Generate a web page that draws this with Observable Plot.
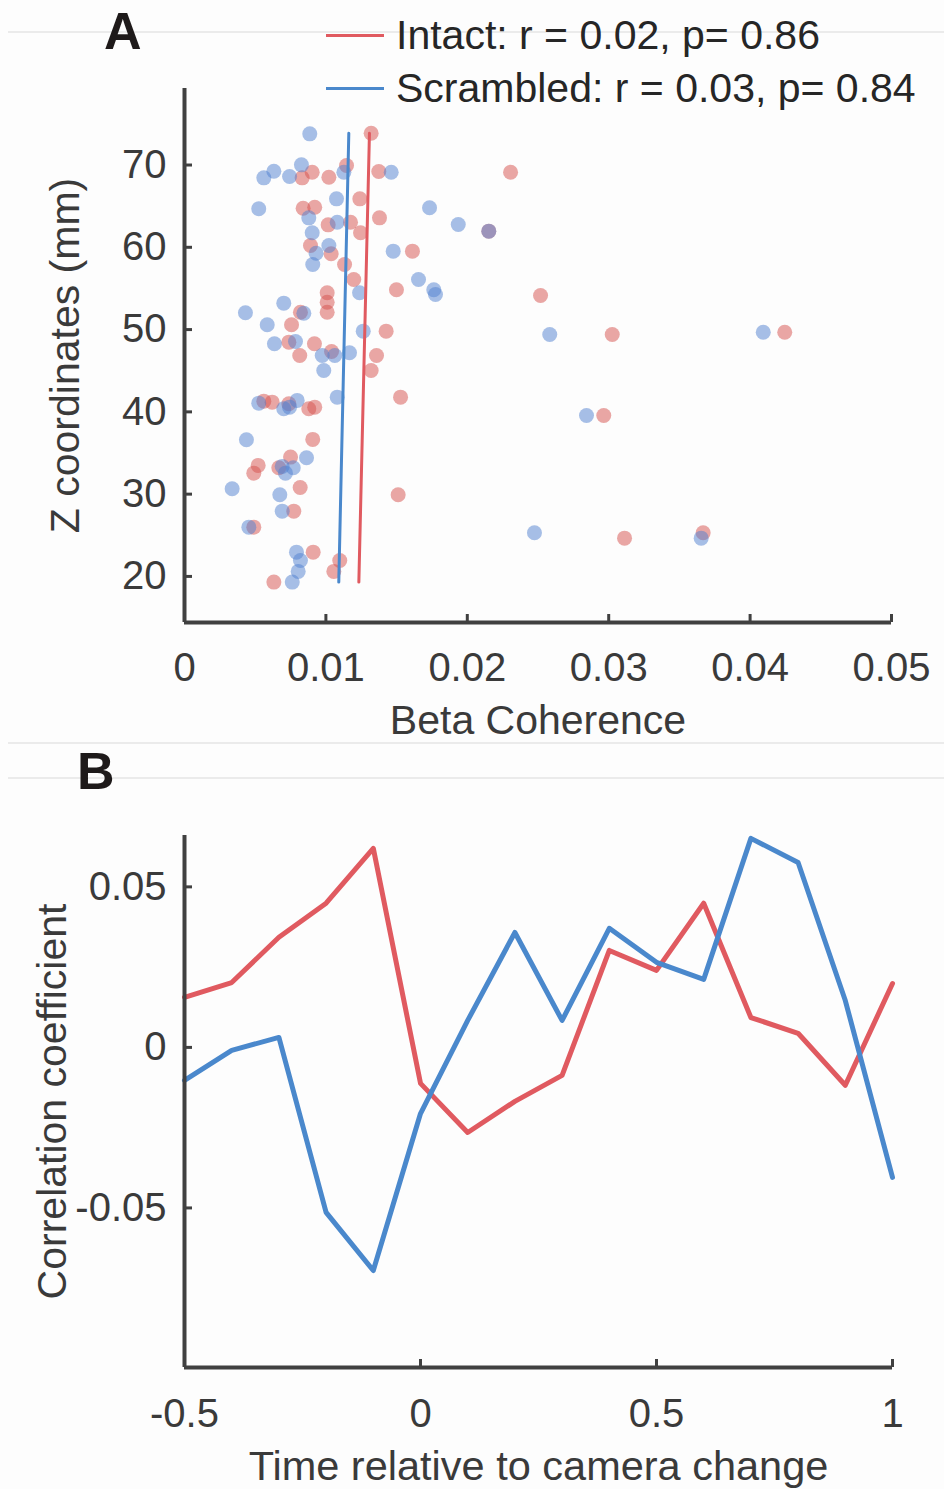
<!DOCTYPE html>
<html>
<head>
<meta charset="utf-8">
<script src="https://cdn.jsdelivr.net/npm/d3@7"></script>
<script src="https://cdn.jsdelivr.net/npm/@observablehq/plot@0.6"></script>
<style>
  body { margin: 0; background: #fdfdfd; font-family: Arial, "Liberation Sans", sans-serif; }
  #fig { position: relative; width: 944px; height: 1489px; overflow: hidden; background: #fdfdfd; }
  .sep { position: absolute; left: 8px; right: 0; height: 2px; background: #ebebeb; }
  .panel { position: absolute; left: 0; }
  .plabel { position: absolute; font-weight: bold; font-size: 52px; color: #1e1a1a; line-height: 1; }
  .leg { position: absolute; left: 326px; font-size: 41px; color: #262626; line-height: 1; display: flex; align-items: center; white-space: nowrap; }
  .leg .sw { display: inline-block; width: 58px; height: 3px; margin-right: 12px; }
</style>
</head>
<body>
<div id="fig">
  <div class="sep" style="top:31px"></div>
  <div class="sep" style="top:742px"></div>
  <div class="sep" style="top:777px"></div>
  <div id="panelA" class="panel" style="top:0"></div>
  <div id="panelB" class="panel" style="top:780px"></div>
  <div class="plabel" style="left:104px;top:5px">A</div>
  <div class="plabel" style="left:77px;top:745px">B</div>
  <div id="legend"></div>
</div>
<script>
// ---------- Panel A data (Beta coherence vs Z coordinate) ----------
const intactBeta = [0.01320,0.01146,0.00832,0.00903,0.01021,0.01374,0.01240,0.00839,0.00921,0.01016,
  0.01174,0.01379,0.01245,0.00891,0.01037,0.01132,0.01612,0.01197,0.01499,0.01009,
  0.01009,0.01009,0.00820,0.00757,0.01426,0.00738,0.00919,0.00815,0.01040,0.01358,
  0.01320,0.01528,0.00561,0.00620,0.00738,0.00879,0.00921,0.00907,0.00521,0.00490,
  0.00750,0.00667,0.00818,0.01511,0.00773,0.00490,0.00910,0.01098,0.01056,0.00632,
  0.02306,0.02152,0.02518,0.03025,0.04245,0.02965,0.03112,0.03668];
const intactZ = [73.86,69.94,68.44,69.13,68.52,69.21,65.89,64.75,64.87,62.73,
  63.05,63.58,61.76,60.22,59.21,57.91,59.53,56.09,54.84,54.47,
  53.33,52.11,52.11,50.58,49.81,48.47,48.27,46.85,47.34,46.85,
  45.03,41.79,41.30,41.18,40.98,40.38,40.57,36.65,33.49,32.55,
  34.50,33.21,30.81,29.93,27.93,25.99,22.95,21.94,20.61,19.31,
  69.13,61.96,54.14,49.40,49.68,39.56,24.65,25.31];
const scrambledBeta = [0.00886,0.00827,0.00632,0.00561,0.00743,0.01127,0.01462,0.01075,0.00525,0.01733,
  0.00879,0.01080,0.00903,0.01021,0.00931,0.00907,0.01476,0.01655,0.01763,0.01775,
  0.01238,0.00702,0.00431,0.00844,0.00585,0.01264,0.00636,0.00785,0.00974,0.01063,
  0.01167,0.00985,0.01080,0.00525,0.00702,0.00743,0.00797,0.00438,0.00863,0.00691,
  0.00769,0.00714,0.00337,0.00674,0.00691,0.00455,0.00792,0.00820,0.00804,0.00762,
  0.01936,0.02152,0.02583,0.04093,0.02843,0.02475,0.03654];
const scrambledZ = [73.79,70.02,69.25,68.44,68.60,69.13,69.13,65.89,64.68,64.80,
  63.58,63.05,61.76,60.22,59.28,57.91,59.53,56.09,54.84,54.26,
  54.47,53.21,52.04,51.99,50.58,49.81,48.27,48.55,46.85,46.85,
  47.18,45.03,41.79,41.06,40.38,40.57,41.39,36.61,34.42,33.37,
  33.21,32.55,30.66,29.93,27.93,25.99,22.95,21.94,20.61,19.31,
  62.77,61.96,49.40,49.68,39.56,25.31,24.65];
// regression fits (x on z), endpoints
const fitZ = [19.31, 73.86];
const intactFitBeta = [0.01233, 0.01308];
const scrambledFitBeta = [0.01091, 0.01162];

const betaTicks = [0, 0.01, 0.02, 0.03, 0.04, 0.05];
const betaTickLabels = ["0", "0.01", "0.02", "0.03", "0.04", "0.05"];
const zTicks = [20, 30, 40, 50, 60, 70];
const zTickLabels = ["20", "30", "40", "50", "60", "70"];
const betaDomain = [0, 0.05];
const zDomain = [14.4, 79.3];

const legendLabels = ["Intact: r = 0.02, p= 0.86", "Scrambled: r = 0.03, p= 0.84"];

// ---------- Panel B data (correlation over time) ----------
const timePoints = [-0.5,-0.4,-0.3,-0.2,-0.1,0,0.1,0.2,0.3,0.4,0.5,0.6,0.7,0.8,0.9,1.0];
const intactCorr = [0.0156,0.0202,0.0343,0.0449,0.0620,-0.0112,-0.0265,-0.0168,-0.0087,0.0302,
  0.0240,0.0449,0.0093,0.0044,-0.0118,0.0199];
const scrambledCorr = [-0.0103,-0.0009,0.0031,-0.0514,-0.0695,-0.0206,0.0084,0.0358,0.0084,0.0371,
  0.0265,0.0212,0.0651,0.0576,0.0146,-0.0405];
const timeTicks = [-0.5, 0, 0.5, 1];
const timeTickLabels = ["-0.5", "0", "0.5", "1"];
const corrTicks = [-0.05, 0, 0.05];
const corrTickLabels = ["-0.05", "0", "0.05"];
const timeDomain = [-0.5, 1];
const corrDomain = [-0.0997, 0.066];

// ---------- styles ----------
const RED_DOT = "#d6504b", BLUE_DOT = "#4f7fd0";
const RED = "#e05a60", BLUE = "#4a88cc";
const AXIS = "#404040", TEXT = "#3a3a3a";
const FONT = "Arial, 'Liberation Sans', sans-serif";

function fmt(ticks, labels) { return d => labels[ticks.indexOf(d)]; }

// ---------- Panel A ----------
const hA = 742, mTA = 88, mBA = 120, mLA = 184, mRA = 53;
const innerHA = hA - mTA - mBA, innerWA = 944 - mLA - mRA;
const plotA = Plot.plot({
  width: 944, height: hA,
  marginTop: mTA, marginBottom: mBA, marginLeft: mLA, marginRight: mRA,
  style: {background: "transparent", fontFamily: FONT, fontSize: "40px", color: TEXT, overflow: "visible"},
  x: {domain: betaDomain},
  y: {domain: zDomain},
  marks: [
    Plot.dot(intactBeta, {x: d => d, y: (d, i) => intactZ[i], r: 7.5, fill: RED_DOT, fillOpacity: 0.5, stroke: "none"}),
    Plot.dot(scrambledBeta, {x: d => d, y: (d, i) => scrambledZ[i], r: 7.5, fill: BLUE_DOT, fillOpacity: 0.5, stroke: "none"}),
    Plot.line(intactFitBeta, {x: d => d, y: (d, i) => fitZ[i], stroke: RED, strokeWidth: 3}),
    Plot.line(scrambledFitBeta, {x: d => d, y: (d, i) => fitZ[i], stroke: BLUE, strokeWidth: 3}),
    Plot.ruleX(betaTicks, {x: d => d, stroke: AXIS, strokeWidth: 3, insetTop: innerHA - 8}),
    Plot.ruleY(zTicks, {y: d => d, stroke: AXIS, strokeWidth: 3, insetRight: innerWA - 8}),
    Plot.ruleX([betaDomain[0]], {stroke: AXIS, strokeWidth: 4}),
    Plot.ruleY([zDomain[0]], {stroke: AXIS, strokeWidth: 4}),
    Plot.axisX(betaTicks, {tickSize: 0, tickPadding: 30, fontSize: 40, tickFormat: fmt(betaTicks, betaTickLabels), label: null}),
    Plot.axisY(zTicks, {tickSize: 0, tickPadding: 18, fontSize: 40, tickFormat: fmt(zTicks, zTickLabels), label: null}),
    Plot.text(["Beta Coherence"], {frameAnchor: "bottom", lineAnchor: "middle", textAnchor: "middle", dy: 98, fontSize: 41, fill: TEXT}),
    Plot.text(["Z coordinates (mm)"], {frameAnchor: "left", textAnchor: "middle", lineAnchor: "middle", dx: -119, rotate: -90, fontSize: 41, fill: TEXT})
  ]
});
document.getElementById("panelA").appendChild(plotA);

// ---------- Panel B ----------
const hB = 709, mTB = 55, mBB = 122, mLB = 184, mRB = 52;
const innerHB = hB - mTB - mBB, innerWB = 944 - mLB - mRB;
const plotB = Plot.plot({
  width: 944, height: hB,
  marginTop: mTB, marginBottom: mBB, marginLeft: mLB, marginRight: mRB,
  style: {background: "transparent", fontFamily: FONT, fontSize: "40px", color: TEXT, overflow: "visible"},
  x: {domain: timeDomain},
  y: {domain: corrDomain},
  marks: [
    Plot.line(intactCorr, {x: (d, i) => timePoints[i], y: d => d, stroke: RED, strokeWidth: 5}),
    Plot.line(scrambledCorr, {x: (d, i) => timePoints[i], y: d => d, stroke: BLUE, strokeWidth: 5}),
    Plot.ruleX(timeTicks, {x: d => d, stroke: AXIS, strokeWidth: 3, insetTop: innerHB - 8}),
    Plot.ruleY(corrTicks, {y: d => d, stroke: AXIS, strokeWidth: 3, insetRight: innerWB - 8}),
    Plot.ruleX([timeDomain[0]], {stroke: AXIS, strokeWidth: 4}),
    Plot.ruleY([corrDomain[0]], {stroke: AXIS, strokeWidth: 4}),
    Plot.axisX(timeTicks, {tickSize: 0, tickPadding: 31, fontSize: 40, tickFormat: fmt(timeTicks, timeTickLabels), label: null}),
    Plot.axisY(corrTicks, {tickSize: 0, tickPadding: 18, fontSize: 40, tickFormat: fmt(corrTicks, corrTickLabels), label: null}),
    Plot.text(["Time relative to camera change"], {frameAnchor: "bottom", lineAnchor: "middle", textAnchor: "middle", dy: 99, fontSize: 41.5, fill: TEXT}),
    Plot.text(["Correlation coefficient"], {frameAnchor: "left", textAnchor: "middle", lineAnchor: "middle", dx: -132, rotate: -90, fontSize: 41, fill: TEXT})
  ]
});
document.getElementById("panelB").appendChild(plotB);

// ---------- Legend ----------
const legendColors = [RED, BLUE];
const legendTops = [15, 68];
const legend = document.getElementById("legend");
legendLabels.forEach((lab, i) => {
  const row = document.createElement("div");
  row.className = "leg";
  row.style.top = legendTops[i] + "px";
  const sw = document.createElement("span");
  sw.className = "sw";
  sw.style.background = legendColors[i];
  row.appendChild(sw);
  row.appendChild(document.createTextNode(lab));
  legend.appendChild(row);
});
</script>
</body>
</html>
